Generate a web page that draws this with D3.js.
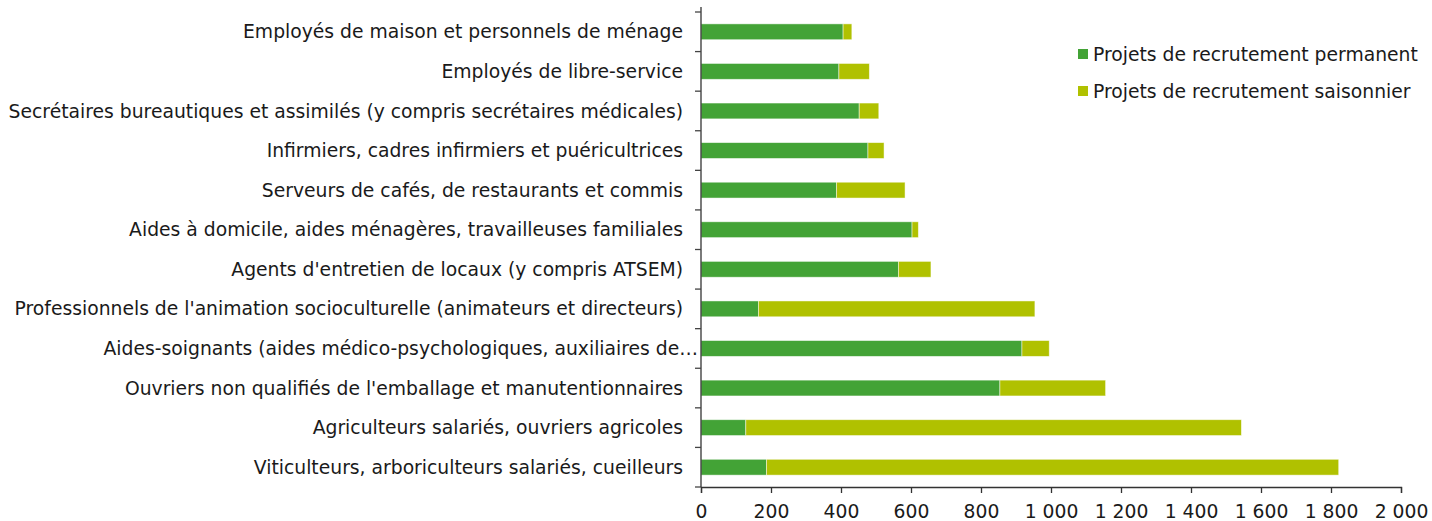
<!DOCTYPE html>
<html><head><meta charset="utf-8">
<script src="https://cdn.jsdelivr.net/npm/d3@7"></script>
<style>
html,body{margin:0;padding:0;background:#fff;}
text{font-family:"DejaVu Sans",Verdana,sans-serif;fill:#1a1a1a;}
</style></head>
<body><svg id="c" width="1432" height="521"></svg>
<script>
const categories = [
  "Employés de maison et personnels de ménage",
  "Employés de libre-service",
  "Secrétaires bureautiques et assimilés (y compris secrétaires médicales)",
  "Infirmiers, cadres infirmiers et puéricultrices",
  "Serveurs de cafés, de restaurants et commis",
  "Aides à domicile, aides ménagères, travailleuses familiales",
  "Agents d'entretien de locaux (y compris ATSEM)",
  "Professionnels de l'animation socioculturelle (animateurs et directeurs)",
  "Aides-soignants (aides médico-psychologiques, auxiliaires de…",
  "Ouvriers non qualifiés de l'emballage et manutentionnaires",
  "Agriculteurs salariés, ouvriers agricoles",
  "Viticulteurs, arboriculteurs salariés, cueilleurs"
];
const permanent = [406, 394, 452, 477, 387, 603, 564, 164, 917, 854, 128, 187];
const saisonnier = [25, 87, 56, 46, 196, 18, 93, 790, 78, 302, 1416, 1635];
const seriesNames = ["Projets de recrutement permanent", "Projets de recrutement saisonnier"];
const xTicks = [0, 200, 400, 600, 800, 1000, 1200, 1400, 1600, 1800, 2000];
const colors = ["#43a336", "#b0c100"];

const FS = 18.75;
const svg = d3.select("#c");
const margin = {left: 701, right: 31, top: 12, bottom: 34};
const W = 1432, H = 521;
const x = d3.scaleLinear().domain([0, 2000]).range([margin.left, W - margin.right]);
const y = d3.scaleBand().domain(categories).range([margin.top, H - margin.bottom]).paddingInner(0.6).paddingOuter(0.3);

const rows = categories.map((c, i) => ({c, p: permanent[i], s: saisonnier[i]}));
const stack = d3.stack().keys(["p", "s"])(rows);

svg.append("g").selectAll("g").data(stack).join("g")
  .attr("fill", (d, i) => colors[i])
  .selectAll("rect").data(d => d).join("rect")
  .attr("x", d => x(d[0]))
  .attr("width", d => x(d[1]) - x(d[0]))
  .attr("y", d => y(d.data.c))
  .attr("height", y.bandwidth())
  .attr("stroke", "rgba(255,255,255,0.6)")
  .attr("stroke-width", 0.8);

// y axis
const yAxisG = svg.append("g");
const y0 = margin.top, y1 = H - margin.bottom;
yAxisG.append("line").attr("x1", x(0)).attr("x2", x(0)).attr("y1", y0 - 5).attr("y2", y1).attr("stroke", "#333").attr("stroke-width", 1.3);
const step = y.step();
const bandStarts = categories.map(c => y(c) - y.paddingInner() * step / 2);
bandStarts.concat([y1]).forEach(b => {
  yAxisG.append("line").attr("x1", x(0) - 6).attr("x2", x(0)).attr("y1", b).attr("y2", b).attr("stroke", "#444").attr("stroke-width", 1.3);
});
yAxisG.selectAll("text.lab").data(categories).join("text")
  .attr("class", "lab")
  .attr("x", (d, i) => i === 8 ? x(0) - 3 : x(0) - 18)
  .attr("y", d => y(d) + y.bandwidth() / 2)
  .attr("dy", "0.35em")
  .attr("text-anchor", "end")
  .attr("font-size", FS)
  .text(d => d);

// x axis
const xAxis = d3.axisBottom(x).tickValues(xTicks).tickSize(6)
  .tickFormat(d => d3.format(",")(d).replace(/,/g, "\u00a0"));
const gx = svg.append("g").attr("transform", `translate(0,${y1})`).call(xAxis);
gx.select(".domain").attr("stroke", "#333").attr("stroke-width", 1.3);
gx.selectAll(".tick line").attr("stroke", "#333").attr("stroke-width", 1.3);
gx.selectAll(".tick text").attr("font-size", FS).attr("font-family", "DejaVu Sans, Verdana, sans-serif").attr("fill", "#1a1a1a").attr("y", 14).attr("dy", "0.9em");

// legend
const leg = svg.append("g").attr("transform", "translate(1078,0)");
seriesNames.forEach((n, i) => {
  const yy = 54 + i * 37;
  leg.append("rect").attr("x", 0).attr("y", yy - 5).attr("width", 10).attr("height", 10).attr("fill", colors[i]);
  leg.append("text").attr("x", 15).attr("y", yy).attr("dy", "0.35em").attr("font-size", FS).text(n);
});
</script></body></html>
